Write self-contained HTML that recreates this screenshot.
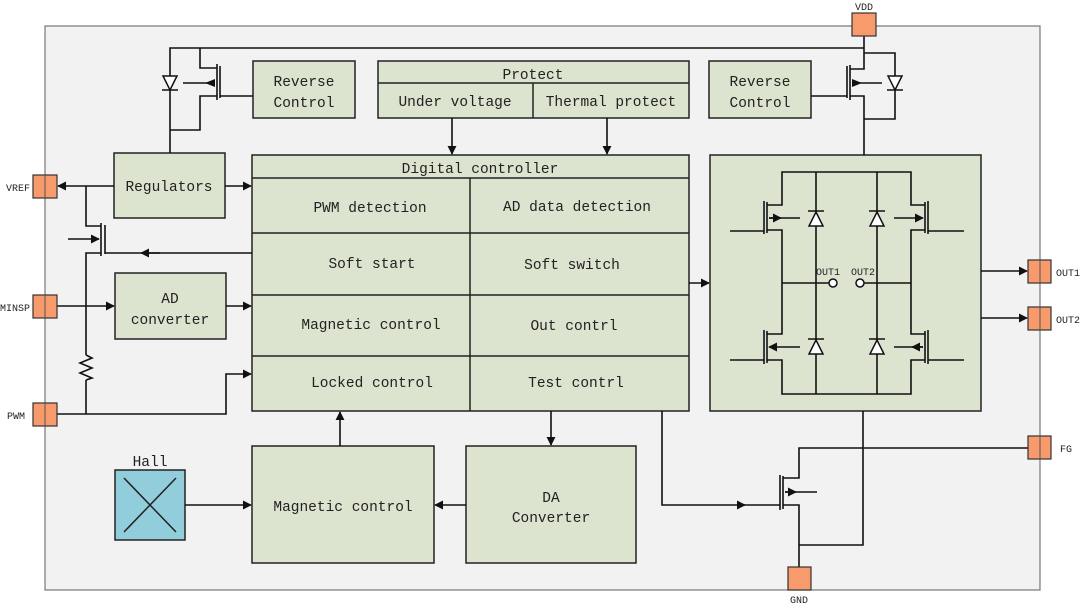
<!DOCTYPE html>
<html><head><meta charset="utf-8"><style>
html,body{margin:0;padding:0;background:#fff;}
svg{display:block;}
text{font-family:"Liberation Mono","DejaVu Sans Mono",monospace;fill:#222;}
</style></head><body>
<svg width="1080" height="604" viewBox="0 0 1080 604" xmlns="http://www.w3.org/2000/svg">
<defs>
<marker id="a" viewBox="0 0 10 10" refX="9" refY="5" markerWidth="9" markerHeight="9" orient="auto" markerUnits="userSpaceOnUse"><path d="M0,0L10,5L0,10z" fill="#111"/></marker>
</defs>
<rect x="45" y="26" width="995" height="564" fill="#f2f2f2" stroke="#777" stroke-width="1.2"/>
<g fill="#dce3cf" stroke="#222" stroke-width="1.5">
<rect x="253" y="61" width="102" height="57"/>
<rect x="378" y="61" width="311" height="57"/>
<rect x="709" y="61" width="102" height="57"/>
<rect x="252" y="155" width="437" height="256"/>
<rect x="114" y="153" width="111" height="65"/>
<rect x="115" y="273" width="111" height="66"/>
<rect x="252" y="446" width="182" height="117"/>
<rect x="466" y="446" width="170" height="117"/>
<rect x="710" y="155" width="271" height="256"/>
</g>
<rect x="115" y="470" width="70" height="70" fill="#92cddc" stroke="#222" stroke-width="1.5"/>
<g stroke="#222" stroke-width="1.5" fill="none">
<line x1="124" y1="478" x2="176" y2="532"/><line x1="176" y1="478" x2="124" y2="532"/>
<line x1="378" y1="83" x2="689" y2="83"/><line x1="533" y1="83" x2="533" y2="118"/>
<line x1="252" y1="178" x2="689" y2="178"/><line x1="252" y1="233" x2="689" y2="233"/>
<line x1="252" y1="295" x2="689" y2="295"/><line x1="252" y1="356" x2="689" y2="356"/>
<line x1="470" y1="178" x2="470" y2="411"/>
</g>
<g stroke="#111" stroke-width="1.6" fill="none">
<polyline points="170,153 170,48 864,48"/>
<line x1="864" y1="36" x2="864" y2="53"/>
<polyline points="200,48 200,68 217,68"/>
<polyline points="170,130 200,130 200,96 217,96"/>
<line x1="217" y1="64" x2="217" y2="100"/>
<line x1="220" y1="66" x2="220" y2="98"/>
<line x1="220" y1="96" x2="253" y2="96"/>
<line x1="183" y1="83" x2="215" y2="83"/>
<polyline points="864,53 895,53 895,119 864,119"/>
<polyline points="864,53 864,69 850,69"/>
<polyline points="864,155 864,96 850,96"/>
<line x1="850" y1="65" x2="850" y2="100"/>
<line x1="847" y1="66" x2="847" y2="98"/>
<line x1="811" y1="96" x2="847" y2="96"/>
<line x1="882" y1="83" x2="852" y2="83"/>
<line x1="452" y1="118" x2="452" y2="154" marker-end="url(#a)"/>
<line x1="607" y1="118" x2="607" y2="154" marker-end="url(#a)"/>
<line x1="225" y1="186" x2="251" y2="186" marker-end="url(#a)"/>
<line x1="114" y1="186" x2="58" y2="186" marker-end="url(#a)"/>
<polyline points="86,186 86,226 101,226"/>
<polyline points="86,414 86,380"/>
<polyline points="86,355 86,253 101,253"/>
<polyline points="86,355 92,358 80,363 92,368 80,373 92,378 86,380"/>
<line x1="101" y1="223" x2="101" y2="256"/>
<line x1="105" y1="225" x2="105" y2="254"/>
<line x1="68" y1="239" x2="99" y2="239" marker-end="url(#a)"/>
<line x1="252" y1="253" x2="105" y2="253"/>
<line x1="160" y1="253" x2="141" y2="253" marker-end="url(#a)"/>
<line x1="57" y1="306" x2="114" y2="306" marker-end="url(#a)"/>
<line x1="226" y1="306" x2="251" y2="306" marker-end="url(#a)"/>
<polyline points="57,414 226,414 226,374 251,374" marker-end="url(#a)"/>
<line x1="185" y1="505" x2="251" y2="505" marker-end="url(#a)"/>
<line x1="340" y1="446" x2="340" y2="412" marker-end="url(#a)"/>
<line x1="466" y1="505" x2="435" y2="505" marker-end="url(#a)"/>
<line x1="551" y1="411" x2="551" y2="445" marker-end="url(#a)"/>
<line x1="689" y1="283" x2="709" y2="283" marker-end="url(#a)"/>
<polyline points="662,411 662,505 745,505" marker-end="url(#a)"/>
<line x1="740" y1="505" x2="780" y2="505"/>
<line x1="780" y1="475" x2="780" y2="510"/>
<line x1="783" y1="476" x2="783" y2="509"/>
<polyline points="783,478 799,478 799,448 1028,448"/>
<polyline points="783,505 799,505 799,567"/>
<polyline points="799,545 863,545 863,411"/>
<line x1="785" y1="492" x2="817" y2="492"/>
<line x1="785" y1="492" x2="796" y2="492" marker-end="url(#a)"/>
<line x1="981" y1="271" x2="1027" y2="271" marker-end="url(#a)"/>
<line x1="981" y1="318" x2="1027" y2="318" marker-end="url(#a)"/>
<polyline points="767,205 782,205 782,172 911,172 911,205 925,205"/>
<polyline points="767,230 782,230 782,334 767,334"/>
<polyline points="925,230 911,230 911,334 925,334"/>
<polyline points="767,360 782,360 782,394 911,394 911,360 925,360"/>
<line x1="816" y1="172" x2="816" y2="394"/>
<line x1="877" y1="172" x2="877" y2="394"/>
<line x1="782" y1="283" x2="829" y2="283"/>
<line x1="864" y1="283" x2="911" y2="283"/>
<line x1="764" y1="201" x2="764" y2="234"/><line x1="767" y1="202" x2="767" y2="233"/>
<line x1="764" y1="330" x2="764" y2="364"/><line x1="767" y1="331" x2="767" y2="363"/>
<line x1="928" y1="201" x2="928" y2="234"/><line x1="925" y1="202" x2="925" y2="233"/>
<line x1="928" y1="330" x2="928" y2="364"/><line x1="925" y1="331" x2="925" y2="363"/>
<line x1="730" y1="231" x2="764" y2="231"/><line x1="730" y1="360" x2="764" y2="360"/>
<line x1="928" y1="231" x2="964" y2="231"/><line x1="928" y1="360" x2="964" y2="360"/>
<line x1="800" y1="218" x2="769" y2="218"/><line x1="769" y1="218" x2="781" y2="218" marker-end="url(#a)"/>
<line x1="800" y1="347" x2="769" y2="347" marker-end="url(#a)"/>
<line x1="894" y1="218" x2="923" y2="218" marker-end="url(#a)"/>
<line x1="894" y1="347" x2="923" y2="347"/><line x1="923" y1="347" x2="912" y2="347" marker-end="url(#a)"/>
</g>
<g fill="#111">
<path d="M215,79 L215,87 L205,83 Z"/>
<path d="M852,79 L852,87 L862,83 Z"/>
</g>
<g fill="#fff" stroke="#111" stroke-width="1.5">
<path d="M163,76 L177,76 L170,90 Z"/><line x1="162" y1="90" x2="178" y2="90"/>
<path d="M888,76 L902,76 L895,90 Z"/><line x1="887" y1="90" x2="903" y2="90"/>
<path d="M809,226 L823,226 L816,212 Z"/><line x1="808" y1="211" x2="824" y2="211"/>
<path d="M870,226 L884,226 L877,212 Z"/><line x1="869" y1="211" x2="885" y2="211"/>
<path d="M809,354 L823,354 L816,340 Z"/><line x1="808" y1="339" x2="824" y2="339"/>
<path d="M870,354 L884,354 L877,340 Z"/><line x1="869" y1="339" x2="885" y2="339"/>
<circle cx="833" cy="283" r="4"/><circle cx="860" cy="283" r="4"/>
</g>
<g fill="#f79a6c" stroke="#333" stroke-width="1.2">
<rect x="852" y="13" width="24" height="23"/>
<rect x="33" y="175" width="24" height="23"/>
<rect x="33" y="295" width="24" height="23"/>
<rect x="33" y="403" width="24" height="23"/>
<rect x="1028" y="260" width="23" height="23"/>
<rect x="1028" y="307" width="23" height="23"/>
<rect x="1028" y="436" width="23" height="23"/>
<rect x="788" y="567" width="23" height="23"/>
</g>
<g stroke="#555" stroke-width="1">
<line x1="45" y1="175" x2="45" y2="198"/><line x1="45" y1="295" x2="45" y2="318"/><line x1="45" y1="403" x2="45" y2="426"/>
<line x1="1040" y1="260" x2="1040" y2="283"/><line x1="1040" y1="307" x2="1040" y2="330"/><line x1="1040" y1="436" x2="1040" y2="459"/>
</g>
<g font-size="14.5" text-anchor="middle">
<text x="304" y="86">Reverse</text><text x="304" y="107">Control</text>
<text x="760" y="86">Reverse</text><text x="760" y="107">Control</text>
<text x="533" y="79">Protect</text>
<text x="455" y="106">Under voltage</text>
<text x="611" y="106">Thermal protect</text>
<text x="480" y="173">Digital controller</text>
<text x="169" y="191">Regulators</text>
<text x="370" y="212">PWM detection</text>
<text x="577" y="211">AD data detection</text>
<text x="372" y="268">Soft start</text>
<text x="572" y="269">Soft switch</text>
<text x="371" y="329">Magnetic control</text>
<text x="574" y="330">Out contrl</text>
<text x="372" y="387">Locked control</text>
<text x="576" y="387">Test contrl</text>
<text x="170" y="303">AD</text><text x="170" y="324">converter</text>
<text x="150" y="466">Hall</text>
<text x="343" y="511">Magnetic control</text>
<text x="551" y="502">DA</text><text x="551" y="522">Converter</text>
</g>
<g font-size="10" text-anchor="middle">
<text x="864" y="10" font-family="Liberation Serif,serif">VDD</text>
<text x="18" y="191" font-family="Liberation Serif,serif">VREF</text>
<text x="15" y="311" font-family="Liberation Serif,serif">MINSP</text>
<text x="16" y="419" font-family="Liberation Serif,serif">PWM</text>
<text x="1068" y="276" font-family="Liberation Serif,serif">OUT1</text>
<text x="1068" y="323" font-family="Liberation Serif,serif">OUT2</text>
<text x="1066" y="452" font-family="Liberation Serif,serif">FG</text>
<text x="799" y="603" font-family="Liberation Serif,serif">GND</text>
<text x="828" y="275" font-family="Liberation Serif,serif">OUT1</text>
<text x="863" y="275" font-family="Liberation Serif,serif">OUT2</text>
</g>
</svg>
</body></html>
